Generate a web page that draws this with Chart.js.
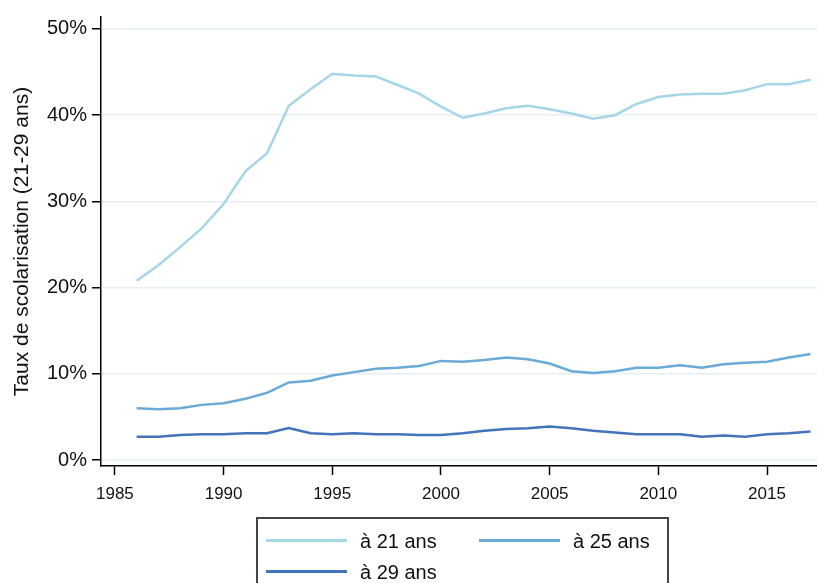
<!DOCTYPE html>
<html>
<head>
<meta charset="utf-8">
<script src="https://cdn.jsdelivr.net/npm/chart.js@4/dist/chart.umd.min.js"></script>
<style>
  html, body { margin: 0; padding: 0; background: #fff; overflow: hidden; }
  #wrap { position: relative; width: 817px; height: 583px; }
  #legend {
    position: absolute; left: 256px; top: 517px; width: 413px; height: 90px;
    border: 2px solid #444; box-sizing: border-box;
    font-family: "Liberation Sans", Arial, sans-serif; font-size: 20px; color: #111;
  }
  .item { position: absolute; height: 24px; line-height: 24px; white-space: nowrap; }
  .item span.swatch { position: absolute; left: 0; top: 10px; width: 81px; height: 3px; }
  .item span.txt { position: absolute; left: 94px; top: 0; }
</style>
</head>
<body>
<div id="wrap">
  <canvas id="chart" width="817" height="583"></canvas>
  <div id="legend"></div>
</div>
<script>
const years = [1986, 1987, 1988, 1989, 1990, 1991, 1992, 1993, 1994, 1995, 1996,
  1997, 1998, 1999, 2000, 2001, 2002, 2003, 2004, 2005, 2006, 2007, 2008, 2009,
  2010, 2011, 2012, 2013, 2014, 2015, 2016, 2017];

const age21 = [20.8, 22.6, 24.7, 26.9, 29.7, 33.5, 35.6, 41.1, 43.0, 44.8, 44.6,
  44.5, 43.5, 42.5, 41.0, 39.7, 40.2, 40.8, 41.1, 40.7, 40.2, 39.6, 40.0, 41.3,
  42.1, 42.4, 42.5, 42.5, 42.9, 43.6, 43.6, 44.1];

const age25 = [6.0, 5.9, 6.0, 6.4, 6.6, 7.1, 7.8, 9.0, 9.2, 9.8, 10.2,
  10.6, 10.7, 10.9, 11.5, 11.4, 11.6, 11.9, 11.7, 11.2, 10.3, 10.1, 10.3, 10.7,
  10.7, 11.0, 10.7, 11.1, 11.3, 11.4, 11.9, 12.3];

const age29 = [2.7, 2.7, 2.9, 3.0, 3.0, 3.1, 3.1, 3.7, 3.1, 3.0, 3.1,
  3.0, 3.0, 2.9, 2.9, 3.1, 3.4, 3.6, 3.7, 3.9, 3.7, 3.4, 3.2, 3.0,
  3.0, 3.0, 2.7, 2.85, 2.7, 3.0, 3.1, 3.3];

const seriesLabels = ['à 21 ans', 'à 25 ans', 'à 29 ans'];
const seriesColors = ['#a6d5e8', '#6aaad6', '#4373b8'];
const xTicks = [1985, 1990, 1995, 2000, 2005, 2010, 2015];
const yTicks = [0, 10, 20, 30, 40, 50];

const FONT = '"Liberation Sans", Arial, sans-serif';

function points(vals) {
  return years.map((yr, i) => ({ x: yr, y: vals[i] }));
}

const ctx = document.getElementById('chart');

const chart = new Chart(ctx, {
  type: 'line',
  data: {
    datasets: [age21, age25, age29].map((vals, i) => ({
      label: seriesLabels[i],
      data: points(vals),
      borderColor: seriesColors[i],
      backgroundColor: seriesColors[i],
      borderWidth: 2.5,
      pointRadius: 0,
      tension: 0,
      fill: false
    }))
  },
  options: {
    responsive: false,
    animation: false,
    devicePixelRatio: 1,
    layout: { padding: { top: 15, left: 0, right: 0, bottom: 0 } },
    plugins: {
      legend: { display: false },
      tooltip: { enabled: false }
    },
    scales: {
      x: {
        type: 'linear',
        min: 1984.36,
        max: 2017.3,
        afterBuildTicks: (scale) => { scale.ticks = xTicks.map(v => ({ value: v })); },
        afterFit: (scale) => { scale.height = 117; },
        grid: {
          drawOnChartArea: false,
          drawTicks: true,
          tickLength: 9,
          tickColor: '#000',
          tickWidth: 1.5
        },
        border: { color: '#000', width: 1.5 },
        ticks: {
          padding: 9,
          color: '#111',
          font: { family: FONT, size: 17 },
          maxRotation: 0,
          callback: (v) => String(v)
        }
      },
      y: {
        min: -0.69,
        max: 51.39,
        afterBuildTicks: (scale) => { scale.ticks = yTicks.map(v => ({ value: v })); },
        afterFit: (scale) => { scale.width = 101; },
        grid: {
          color: '#e6eef4',
          lineWidth: 1.5,
          drawTicks: true,
          tickLength: 9,
          tickColor: '#000',
          tickWidth: 1.5
        },
        border: { color: '#000', width: 1.5 },
        ticks: {
          padding: 5,
          color: '#111',
          font: { family: FONT, size: 20 },
          callback: (v) => v + '%'
        },
        title: {
          display: true,
          text: 'Taux de scolarisation (21-29 ans)',
          color: '#111',
          font: { family: FONT, size: 21 },
          padding: { top: 10, bottom: 0 }
        }
      }
    }
  }
});

// legend box built from the chart datasets (2 columns)
const legendEl = document.getElementById('legend');
const colX = [8, 221];
const rowY = [10, 41];
chart.data.datasets.forEach((ds, i) => {
  const item = document.createElement('div');
  item.className = 'item';
  item.style.left = colX[i % 2] + 'px';
  item.style.top = rowY[Math.floor(i / 2)] + 'px';
  const sw = document.createElement('span');
  sw.className = 'swatch';
  sw.style.background = ds.borderColor;
  const tx = document.createElement('span');
  tx.className = 'txt';
  tx.textContent = ds.label;
  item.appendChild(sw);
  item.appendChild(tx);
  legendEl.appendChild(item);
});
</script>
</body>
</html>
